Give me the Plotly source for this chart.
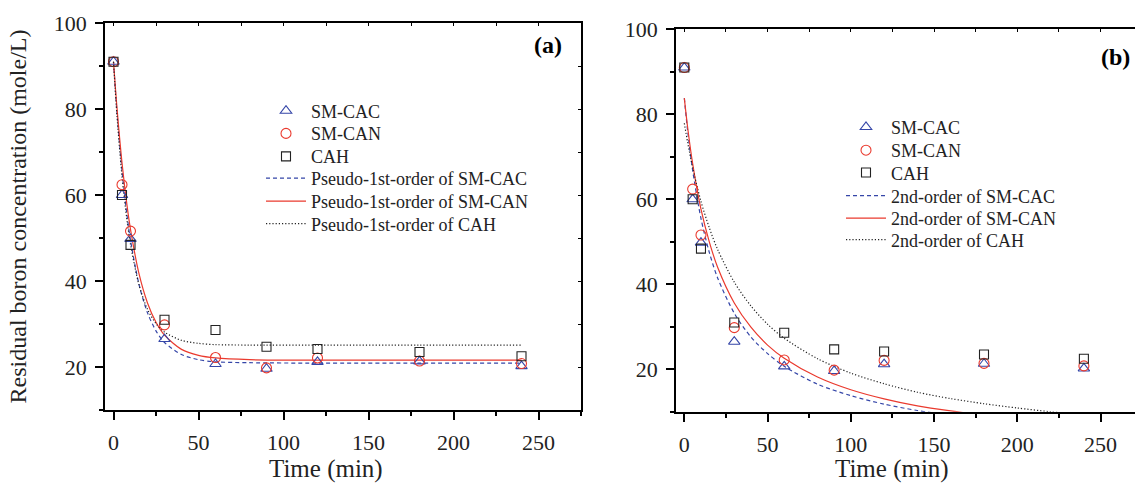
import plotly.graph_objects as go

# ---------------- data ----------------
time_min = [0, 5, 10, 30, 60, 90, 120, 180, 240]
sm_cac = [91.0, 60.0, 49.8, 26.5, 20.7, 19.6, 21.2, 21.3, 20.2]
sm_can = [91.0, 62.4, 51.6, 29.8, 22.2, 19.8, 22.1, 21.4, 20.8]
cah = [91.0, 60.0, 48.4, 31.0, 28.6, 24.7, 24.2, 23.5, 22.5]

# fitted curves, panel (a): pseudo-1st-order
fit_t_a = [0, 2, 5, 8, 10, 15, 20, 25, 30, 40, 50, 60, 80, 120, 180, 240]
p1_cac = [91.0, 79.5, 65.7, 55.1, 49.5, 39.2, 32.6, 28.4, 25.7, 22.9, 21.7, 21.2, 21.0, 20.9, 20.9, 20.9]
p1_can = [91.0, 80.5, 67.5, 57.4, 52.0, 41.7, 34.9, 30.4, 27.4, 24.1, 22.7, 22.1, 21.7, 21.6, 21.6, 21.6]
p1_cah = [91.0, 78.7, 64.4, 53.9, 48.5, 39.1, 33.4, 30.1, 28.1, 26.2, 25.5, 25.2, 25.1, 25.1, 25.1, 25.1]

# panel (b): 2nd-order
fit_t_b = [0, 2, 5, 10, 15, 20, 30, 40, 50, 60, 80, 100, 120, 140, 160, 180, 200, 220, 240]
o2_cac = [83.8, 76.1, 66.8, 55.5, 47.5, 41.5, 33.2, 27.6, 23.7, 20.7, 16.5, 13.8, 11.8, 10.3, 9.2, 8.3, 7.5, 6.9, 6.3]
o2_can = [83.8, 76.9, 68.4, 57.7, 50.0, 44.0, 35.6, 29.9, 25.7, 22.6, 18.2, 15.2, 13.05, 11.4, 10.2, 9.2, 8.35, 7.7, 7.1]
o2_cah = [77.9, 73.4, 67.5, 59.5, 53.3, 48.2, 40.5, 34.9, 30.6, 27.3, 22.5, 19.1, 16.6, 14.6, 13.1, 11.9, 10.9, 10.0, 9.3]

x_ticks = [0, 50, 100, 150, 200, 250]
y_ticks = [20, 40, 60, 80, 100]

BLUE = "#3546a8"
RED = "#ea3a2e"
BLACK = "#222222"
FONT = "Liberation Serif, Times New Roman, serif"

W, H = 1135, 484


def px_x(p):
    return p / W


def px_y(p):
    return 1 - p / H


fig = go.Figure()

marker_specs = [
    ("SM-CAC", sm_cac, "triangle-up-open", BLUE, 10),
    ("SM-CAN", sm_can, "circle-open", RED, 10),
    ("CAH", cah, "square-open", BLACK, 9),
]

line_specs_a = [
    ("Pseudo-1st-order of SM-CAC", p1_cac, BLUE, "4px,3px"),
    ("Pseudo-1st-order of SM-CAN", p1_can, RED, "solid"),
    ("Pseudo-1st-order of CAH", p1_cah, BLACK, "1.2px,2px"),
]
line_specs_b = [
    ("2nd-order of SM-CAC", o2_cac, BLUE, "4px,3px"),
    ("2nd-order of SM-CAN", o2_can, RED, "solid"),
    ("2nd-order of CAH", o2_cah, BLACK, "1.2px,2px"),
]

# legend row positions (pixel centres) for each panel
legend_rows = {
    0: dict(x=261, ys=[111, 133.7, 156.7, 178.5, 201.5, 224]),
    1: dict(x=841, ys=[127.3, 150.5, 172.8, 196, 218.5, 240]),
}


def legend_box(xp, yp):
    return dict(x=px_x(xp), y=px_y(yp), xanchor="left", yanchor="middle",
                bgcolor="rgba(0,0,0,0)", borderwidth=0, itemwidth=40,
                font=dict(family=FONT, size=18, color="#222"))


def legend_id(n):
    return "legend" if n == 1 else f"legend{n}"


legend_layout = {}
for panel, (xa, ya, fit_t, specs) in enumerate([
    ("x", "y", fit_t_a, line_specs_a),
    ("x2", "y2", fit_t_b, line_specs_b),
]):
    rows = legend_rows[panel]
    base = 1 + panel * 6
    # fitted curves first (drawn beneath markers)
    for i, (name, vals, color, dash) in enumerate(specs):
        lname = legend_id(base + 3 + i)
        fig.add_trace(go.Scatter(
            x=fit_t, y=vals, mode="lines", name=name,
            line=dict(color=color, dash=dash, width=1.2, shape="spline", smoothing=0.8),
            xaxis=xa, yaxis=ya, legend=lname,
        ))
        legend_layout[lname] = legend_box(rows["x"], rows["ys"][3 + i])
    for i, (name, vals, sym, color, size) in enumerate(marker_specs):
        lname = legend_id(base + i)
        fig.add_trace(go.Scatter(
            x=time_min, y=vals, mode="markers", name=name,
            marker=dict(symbol=sym, color=color, size=size, line=dict(color=color, width=1.1)),
            xaxis=xa, yaxis=ya, legend=lname,
        ))
        legend_layout[lname] = legend_box(rows["x"], rows["ys"][i])

ax_common = dict(
    showgrid=False, zeroline=False, showline=True, linecolor="black", linewidth=1.5,
    ticks="outside", tickcolor="black", tickwidth=1.5, ticklen=8,
    tickfont=dict(family=FONT, size=22, color="#222"),
)
minor_x = dict(dtick=25, tick0=0, ticks="outside", ticklen=4, tickcolor="black", tickwidth=1.5)
minor_y = dict(dtick=10, tick0=0, ticks="outside", ticklen=4, tickcolor="black", tickwidth=1.5)
title_font = dict(family=FONT, size=24, color="#222")
frame_ax = dict(showgrid=False, zeroline=False, showline=True, linecolor="black", linewidth=1.5,
                ticks="inside", ticklen=3, tickwidth=1, tickcolor="black", showticklabels=False)

dom_xa = [px_x(105), px_x(581)]
dom_ya = [px_y(410), px_y(23)]
dom_xb = [px_x(676), 1.0]
dom_yb = [px_y(411.8), px_y(29.3)]

fig.update_layout(
    width=W, height=H,
    margin=dict(l=0, r=0, t=0, b=0),
    paper_bgcolor="white", plot_bgcolor="white",
    font=dict(family=FONT, size=18, color="#222"),
    showlegend=True,
    xaxis=dict(**ax_common, domain=dom_xa, anchor="y", range=[-5, 275], tickvals=x_ticks, minor=minor_x,
               ticklabelstandoff=4, automargin=False),
    yaxis=dict(**ax_common, domain=dom_ya, anchor="x", range=[10, 100], tickvals=y_ticks, minor=minor_y,
               title=dict(text="Residual boron concentration (mole/L)", font=title_font, standoff=20),
               ticklabelstandoff=4, automargin=False),
    xaxis2=dict(**ax_common, domain=dom_xb, anchor="y2", range=[-5, 270.7], tickvals=x_ticks, minor=minor_x,
                ticklabelstandoff=4, automargin=False),
    yaxis2=dict(**ax_common, domain=dom_yb, anchor="x2", range=[10, 100], tickvals=y_ticks, minor=minor_y,
                ticklabelstandoff=4, automargin=False),
    xaxis3=dict(**frame_ax, overlaying="x", side="top", anchor="y", range=[-5, 275], dtick=25, tick0=0),
    yaxis3=dict(**frame_ax, overlaying="y", side="right", anchor="x", range=[10, 100], dtick=10, tick0=0),
    xaxis4=dict(**frame_ax, overlaying="x2", side="top", anchor="y2", range=[-5, 270.7], dtick=25, tick0=0),
    annotations=[
        dict(text="Time (min)", x=125, xref="x", y=px_y(469), yref="paper",
             xanchor="center", yanchor="middle", showarrow=False,
             font=dict(family=FONT, size=25, color="#222")),
        dict(text="Time (min)", x=125, xref="x2", y=px_y(469), yref="paper",
             xanchor="center", yanchor="middle", showarrow=False,
             font=dict(family=FONT, size=25, color="#222")),
        dict(text="<b>(a)</b>", x=px_x(548), y=px_y(45), xref="paper", yref="paper",
             xanchor="center", yanchor="middle",
             showarrow=False, font=dict(family=FONT, size=24, color="black")),
        dict(text="<b>(b)</b>", x=px_x(1115), y=px_y(57), xref="paper", yref="paper",
             xanchor="center", yanchor="middle",
             showarrow=False, font=dict(family=FONT, size=24, color="black")),
    ],
)
fig.update_layout(**legend_layout)

# invisible helper traces so the frame (overlay) axes are rendered
for xa, ya in [("x3", "y"), ("x", "y3"), ("x4", "y2")]:
    fig.add_trace(go.Scatter(x=[0], y=[50], xaxis=xa, yaxis=ya, mode="markers",
                             marker=dict(opacity=0), showlegend=False, hoverinfo="skip"))

fig.write_html("out.html")
